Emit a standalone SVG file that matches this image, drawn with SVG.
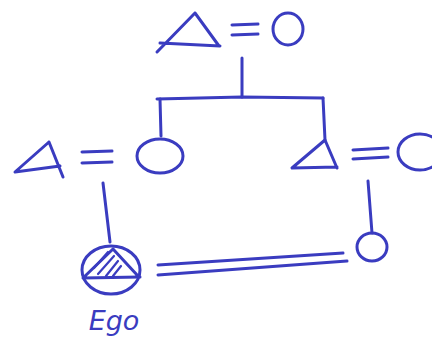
<svg xmlns="http://www.w3.org/2000/svg" width="432" height="339" viewBox="0 0 432 339">
<style>
.ink{fill:none;stroke:#3a3cc0;stroke-width:3;stroke-linecap:round;stroke-linejoin:round}
.thin{fill:none;stroke:#3a3cc0;stroke-width:2.2;stroke-linecap:round}
.lbl{font-family:"DejaVu Sans",sans-serif;font-style:italic;font-size:27px;fill:#3a3cc0}
</style>
<rect width="432" height="339" fill="#ffffff"/>
<g id="connectors">
<path class="ink" d="M242 58 L242 97"/>
<path class="ink" d="M157 99 L242 97 L323 98"/>
<path class="ink" d="M160 99 L161 136"/>
<path class="ink" d="M323 98 L325 140"/>
<path class="ink" d="M103 183 L110 242"/>
<path class="ink" d="M368 181 L372 233"/>
<path class="ink" d="M158 265 L343 253"/>
<path class="ink" d="M158 275 L347 261"/>
</g>
<g id="gf-couple">
<path class="ink" d="M195 13 L157 52 M195 13 L219 46 M160 43 L220 46"/>
<path class="ink" d="M232 25 L258 24 M232 35 L258 34"/>
<ellipse class="ink" cx="288" cy="29" rx="15" ry="16"/>
</g>
<g id="left-couple">
<path class="ink" d="M49 142 L15 172 L60 166 M49 142 L63 177"/>
<path class="ink" d="M82 152 L112 151 M82 163 L112 162"/>
<ellipse class="ink" cx="160" cy="156" rx="23" ry="17"/>
</g>
<g id="right-couple">
<path class="ink" d="M325 140 L292 168 L337 167 M325 140 L337 168"/>
<path class="ink" d="M353 150 L388 148 M353 159 L388 157"/>
<ellipse class="ink" cx="420" cy="152" rx="22" ry="18"/>
</g>
<g id="cousin">
<ellipse class="ink" cx="372" cy="247" rx="15" ry="14"/>
</g>
<g id="ego">
<ellipse class="ink" cx="111" cy="270" rx="29" ry="24"/>
<path class="ink" d="M113 249 L83 278 L140 277 M113 249 L138 276"/>
<path class="thin" d="M94 268 L108 252 M98 274 L114 256 M106 276 L118 261 M113 276 L121 266"/>
<text class="lbl" x="114" y="330" text-anchor="middle">Ego</text>
</g>
</svg>
